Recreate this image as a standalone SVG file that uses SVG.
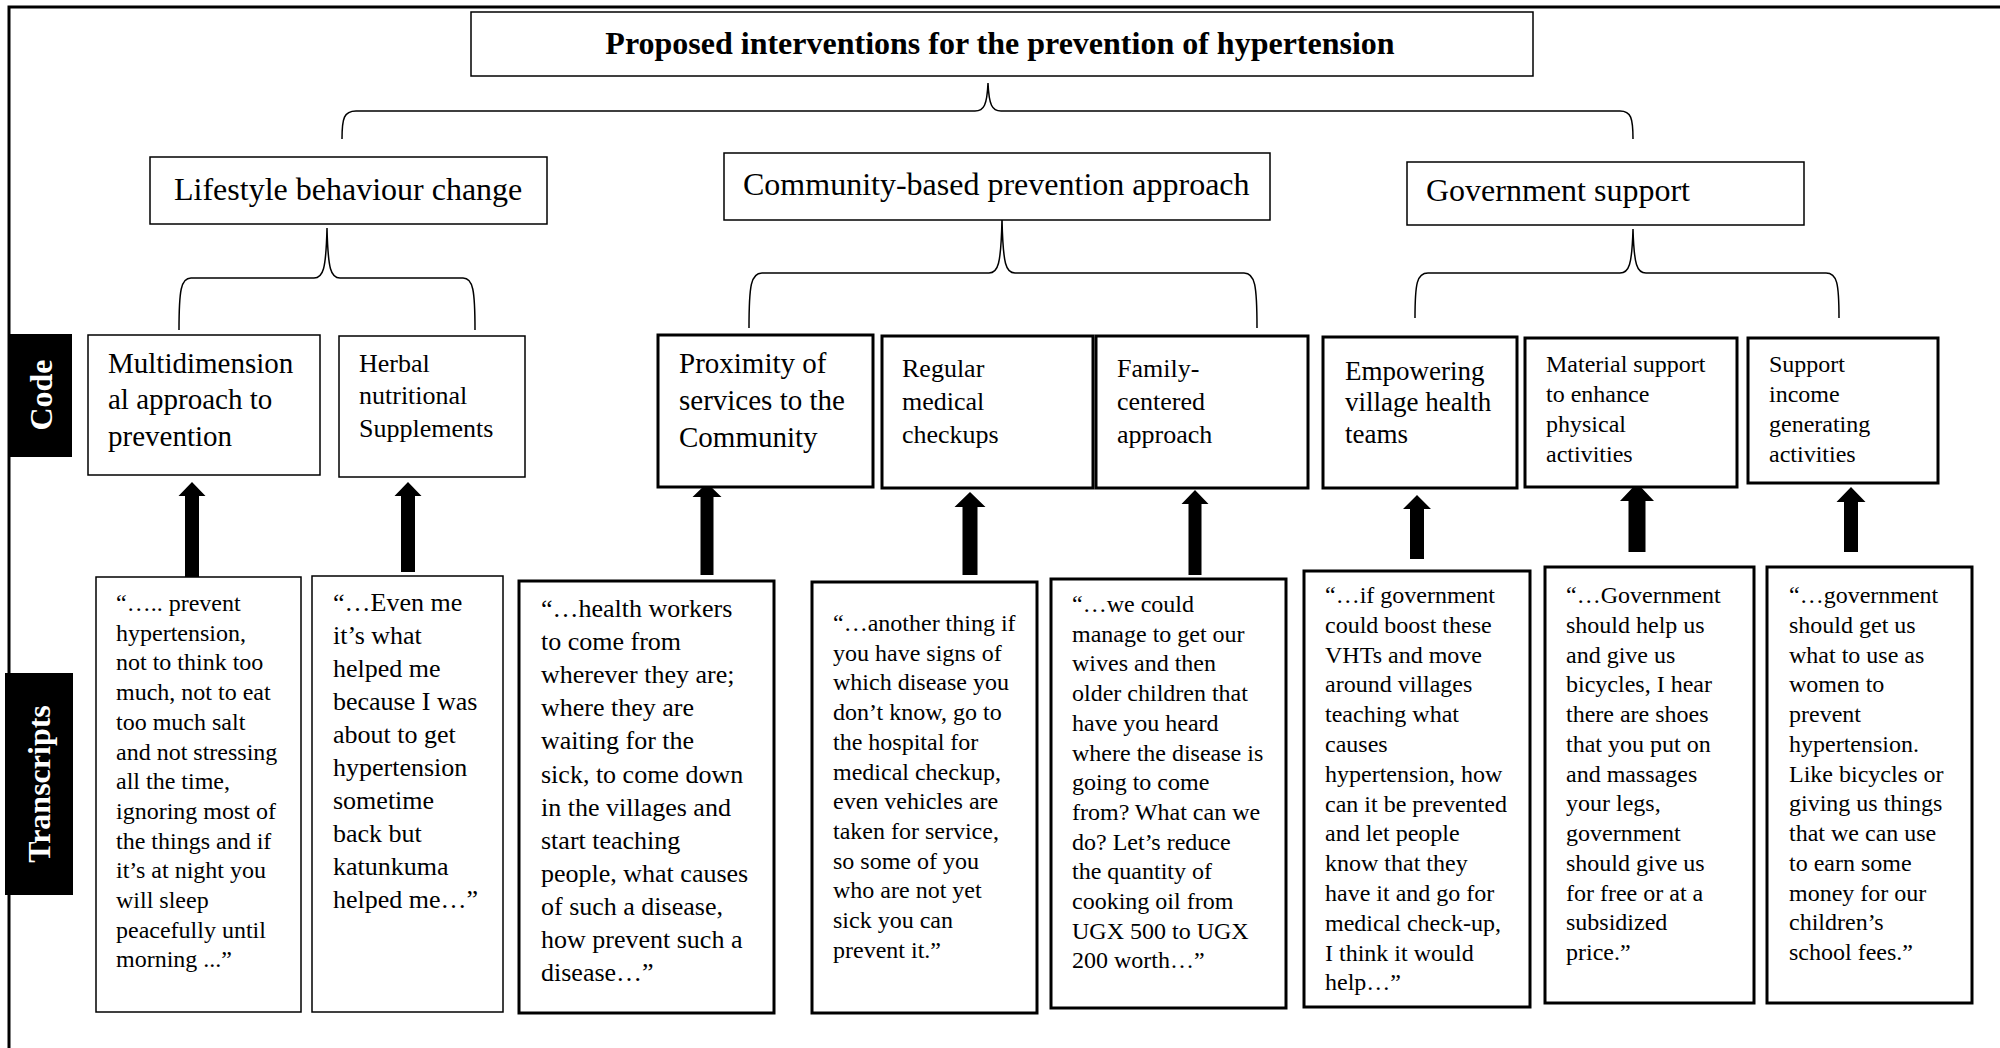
<svg xmlns="http://www.w3.org/2000/svg" width="2000" height="1048" viewBox="0 0 2000 1048">
<style>
text{font-family:"Liberation Serif","Times New Roman",serif;fill:#000}
.b{font-weight:bold}
.thin{fill:#fff;stroke:#000;stroke-width:1.5}
.thick{fill:#fff;stroke:#000;stroke-width:3}
.brace{fill:none;stroke:#000;stroke-width:1.5}
.arrow{fill:#000}
.lbl{fill:#000}
.lt{fill:#fff;font-weight:bold;font-size:32px}
.f32{font-size:32px}.f29{font-size:29px}.f27{font-size:27px}.f26{font-size:26px}.f24{font-size:24px}
</style>
<rect width="2000" height="1048" fill="#fff"/>
<path d="M9,1048 L9,7 L2000,7" fill="none" stroke="#000" stroke-width="3"/>

<g id="label-code">
<rect class="lbl" x="10" y="334" width="62" height="123"/>
<text class="lt" transform="translate(52,395) rotate(-90)" text-anchor="middle">Code</text>
</g>
<g id="label-transcripts">
<rect class="lbl" x="5" y="673" width="68" height="222"/>
<text class="lt" transform="translate(50,784) rotate(-90)" text-anchor="middle">Transcripts</text>
</g>

<g id="connectors">
<path class="brace" d="M342,139 C342,118 344,111 356,111 L975,111 C984,111 987,105 988,83 C989,105 992,111 1001,111 L1620,111 C1631,111 1633,118 1633,139"/>
<path class="brace" d="M179,330 C179,290 181,278 191,278 L314,278 C323,278 326,270 327,228 C328,270 331,278 340,278 L463,278 C473,278 475,290 475,330"/>
<path class="brace" d="M749,328 C749,285 751,273 762,273 L989,273 C998,273 1001,265 1002,219 C1003,265 1006,273 1015,273 L1244,273 C1255,273 1257,285 1257,328"/>
<path class="brace" d="M1415,318 C1415,283 1417,273 1428,273 L1620,273 C1629,273 1632,265 1633,229 C1634,265 1637,273 1646,273 L1826,273 C1837,273 1839,283 1839,318"/>
<path class="arrow" d="M192,482 L205.5,496 L199,496 L199,577 L185,577 L185,496 L178.5,496 Z"/>
<path class="arrow" d="M408,482 L421.5,496 L415,496 L415,572 L401,572 L401,496 L394.5,496 Z"/>
<path class="arrow" d="M707,483 L721.5,497 L713.5,497 L713.5,575 L700.5,575 L700.5,497 L692.5,497 Z"/>
<path class="arrow" d="M970,492 L985.5,507 L977.5,507 L977.5,575 L962.5,575 L962.5,507 L954.5,507 Z"/>
<path class="arrow" d="M1195,490 L1208.5,504 L1201.5,504 L1201.5,575 L1188.5,575 L1188.5,504 L1181.5,504 Z"/>
<path class="arrow" d="M1417,495 L1431,509 L1424,509 L1424,559 L1410,559 L1410,509 L1403,509 Z"/>
<path class="arrow" d="M1637,483 L1654,501 L1645.5,501 L1645.5,552 L1628.5,552 L1628.5,501 L1620,501 Z"/>
<path class="arrow" d="M1851,487 L1865.5,502 L1858,502 L1858,552 L1844,552 L1844,502 L1836.5,502 Z"/>
</g>

<g id="title">
<rect class="thin" x="471" y="12" width="1062" height="64"/>
<text class="b f32" x="1000" y="54" text-anchor="middle">Proposed interventions for the prevention of hypertension</text>
</g>

<g id="theme-lifestyle">
<rect class="thin" x="150" y="157" width="397" height="67"/>
<text class="f32" x="174" y="200">Lifestyle behaviour change</text>
</g>
<g id="theme-community">
<rect class="thin" x="724" y="153" width="546" height="67"/>
<text class="f32" x="743" y="195">Community-based prevention approach</text>
</g>
<g id="theme-government">
<rect class="thin" x="1407" y="162" width="397" height="63"/>
<text class="f32" x="1426" y="201">Government support</text>
</g>

<g id="code-multidimensional">
<rect class="thin" x="88" y="335" width="232" height="140"/>
<text class="f29" x="108" y="373">Multidimension<tspan x="108" y="409">al approach to</tspan><tspan x="108" y="446">prevention</tspan></text>
</g>
<g id="code-herbal">
<rect class="thin" x="339" y="336" width="186" height="141"/>
<text class="f26" x="359" y="372">Herbal<tspan x="359" y="404">nutritional</tspan><tspan x="359" y="437">Supplements</tspan></text>
</g>
<g id="code-proximity">
<rect class="thick" x="658" y="335" width="215" height="152"/>
<text class="f29" x="679" y="373">Proximity of<tspan x="679" y="410">services to the</tspan><tspan x="679" y="447">Community</tspan></text>
</g>
<g id="code-regular">
<rect class="thick" x="882" y="336" width="211" height="152"/>
<text class="f26" x="902" y="377">Regular<tspan x="902" y="410">medical</tspan><tspan x="902" y="443">checkups</tspan></text>
</g>
<g id="code-family">
<rect class="thick" x="1096" y="336" width="212" height="152"/>
<text class="f26" x="1117" y="377">Family-<tspan x="1117" y="410">centered</tspan><tspan x="1117" y="443">approach</tspan></text>
</g>
<g id="code-empowering">
<rect class="thick" x="1323" y="337" width="194" height="151"/>
<text class="f27" x="1345" y="380">Empowering<tspan x="1345" y="411">village health</tspan><tspan x="1345" y="443">teams</tspan></text>
</g>
<g id="code-material">
<rect class="thick" x="1525" y="338" width="212" height="149"/>
<text class="f24" x="1546" y="372">Material support<tspan x="1546" y="402">to enhance</tspan><tspan x="1546" y="432">physical</tspan><tspan x="1546" y="462">activities</tspan></text>
</g>
<g id="code-support">
<rect class="thick" x="1748" y="338" width="190" height="145"/>
<text class="f24" x="1769" y="372">Support<tspan x="1769" y="402">income</tspan><tspan x="1769" y="432">generating</tspan><tspan x="1769" y="462">activities</tspan></text>
</g>

<g id="transcript-1">
<rect class="thin" x="96" y="577" width="205" height="435"/>
<text class="f24" x="116" y="611">“….. prevent<tspan x="116" dy="29.7">hypertension,</tspan><tspan x="116" dy="29.7">not to think too</tspan><tspan x="116" dy="29.7">much, not to eat</tspan><tspan x="116" dy="29.7">too much salt</tspan><tspan x="116" dy="29.7">and not stressing</tspan><tspan x="116" dy="29.7">all the time,</tspan><tspan x="116" dy="29.7">ignoring most of</tspan><tspan x="116" dy="29.7">the things and if</tspan><tspan x="116" dy="29.7">it’s at night you</tspan><tspan x="116" dy="29.7">will sleep</tspan><tspan x="116" dy="29.7">peacefully until</tspan><tspan x="116" dy="29.7">morning ...”</tspan></text>
</g>
<g id="transcript-2">
<rect class="thin" x="312" y="576" width="191" height="436"/>
<text class="f26" x="333" y="611">“…Even me<tspan x="333" dy="33">it’s what</tspan><tspan x="333" dy="33">helped me</tspan><tspan x="333" dy="33">because I was</tspan><tspan x="333" dy="33">about to get</tspan><tspan x="333" dy="33">hypertension</tspan><tspan x="333" dy="33">sometime</tspan><tspan x="333" dy="33">back but</tspan><tspan x="333" dy="33">katunkuma</tspan><tspan x="333" dy="33">helped me…”</tspan></text>
</g>
<g id="transcript-3">
<rect class="thick" x="519" y="581" width="255" height="432"/>
<text class="f26" x="541" y="617">“…health workers<tspan x="541" dy="33.1">to come from</tspan><tspan x="541" dy="33.1">wherever they are;</tspan><tspan x="541" dy="33.1">where they are</tspan><tspan x="541" dy="33.1">waiting for the</tspan><tspan x="541" dy="33.1">sick, to come down</tspan><tspan x="541" dy="33.1">in the villages and</tspan><tspan x="541" dy="33.1">start teaching</tspan><tspan x="541" dy="33.1">people, what causes</tspan><tspan x="541" dy="33.1">of such a disease,</tspan><tspan x="541" dy="33.1">how prevent such a</tspan><tspan x="541" dy="33.1">disease…”</tspan></text>
</g>
<g id="transcript-4">
<rect class="thick" x="812" y="582" width="225" height="431"/>
<text class="f24" x="833" y="631">“…another thing if<tspan x="833" dy="29.7">you have signs of</tspan><tspan x="833" dy="29.7">which disease you</tspan><tspan x="833" dy="29.7">don’t know, go to</tspan><tspan x="833" dy="29.7">the hospital for</tspan><tspan x="833" dy="29.7">medical checkup,</tspan><tspan x="833" dy="29.7">even vehicles are</tspan><tspan x="833" dy="29.7">taken for service,</tspan><tspan x="833" dy="29.7">so some of you</tspan><tspan x="833" dy="29.7">who are not yet</tspan><tspan x="833" dy="29.7">sick you can</tspan><tspan x="833" dy="29.7">prevent it.”</tspan></text>
</g>
<g id="transcript-5">
<rect class="thick" x="1051" y="579" width="235" height="429"/>
<text class="f24" x="1072" y="612">“…we could<tspan x="1072" dy="29.7">manage to get our</tspan><tspan x="1072" dy="29.7">wives and then</tspan><tspan x="1072" dy="29.7">older children that</tspan><tspan x="1072" dy="29.7">have you heard</tspan><tspan x="1072" dy="29.7">where the disease is</tspan><tspan x="1072" dy="29.7">going to come</tspan><tspan x="1072" dy="29.7">from? What can we</tspan><tspan x="1072" dy="29.7">do? Let’s reduce</tspan><tspan x="1072" dy="29.7">the quantity of</tspan><tspan x="1072" dy="29.7">cooking oil from</tspan><tspan x="1072" dy="29.7">UGX 500 to UGX</tspan><tspan x="1072" dy="29.7">200 worth…”</tspan></text>
</g>
<g id="transcript-6">
<rect class="thick" x="1304" y="571" width="226" height="436"/>
<text class="f24" x="1325" y="603">“…if government<tspan x="1325" dy="29.8">could boost these</tspan><tspan x="1325" dy="29.8">VHTs and move</tspan><tspan x="1325" dy="29.8">around villages</tspan><tspan x="1325" dy="29.8">teaching what</tspan><tspan x="1325" dy="29.8">causes</tspan><tspan x="1325" dy="29.8">hypertension, how</tspan><tspan x="1325" dy="29.8">can it be prevented</tspan><tspan x="1325" dy="29.8">and let people</tspan><tspan x="1325" dy="29.8">know that they</tspan><tspan x="1325" dy="29.8">have it and go for</tspan><tspan x="1325" dy="29.8">medical check-up,</tspan><tspan x="1325" dy="29.8">I think it would</tspan><tspan x="1325" dy="29.8">help…”</tspan></text>
</g>
<g id="transcript-7">
<rect class="thick" x="1545" y="567" width="209" height="436"/>
<text class="f24" x="1566" y="603">“…Government<tspan x="1566" dy="29.75">should help us</tspan><tspan x="1566" dy="29.75">and give us</tspan><tspan x="1566" dy="29.75">bicycles, I hear</tspan><tspan x="1566" dy="29.75">there are shoes</tspan><tspan x="1566" dy="29.75">that you put on</tspan><tspan x="1566" dy="29.75">and massages</tspan><tspan x="1566" dy="29.75">your legs,</tspan><tspan x="1566" dy="29.75">government</tspan><tspan x="1566" dy="29.75">should give us</tspan><tspan x="1566" dy="29.75">for free or at a</tspan><tspan x="1566" dy="29.75">subsidized</tspan><tspan x="1566" dy="29.75">price.”</tspan></text>
</g>
<g id="transcript-8">
<rect class="thick" x="1767" y="567" width="205" height="436"/>
<text class="f24" x="1789" y="603">“…government<tspan x="1789" dy="29.75">should get us</tspan><tspan x="1789" dy="29.75">what to use as</tspan><tspan x="1789" dy="29.75">women to</tspan><tspan x="1789" dy="29.75">prevent</tspan><tspan x="1789" dy="29.75">hypertension.</tspan><tspan x="1789" dy="29.75">Like bicycles or</tspan><tspan x="1789" dy="29.75">giving us things</tspan><tspan x="1789" dy="29.75">that we can use</tspan><tspan x="1789" dy="29.75">to earn some</tspan><tspan x="1789" dy="29.75">money for our</tspan><tspan x="1789" dy="29.75">children’s</tspan><tspan x="1789" dy="29.75">school fees.”</tspan></text>
</g>
</svg>
